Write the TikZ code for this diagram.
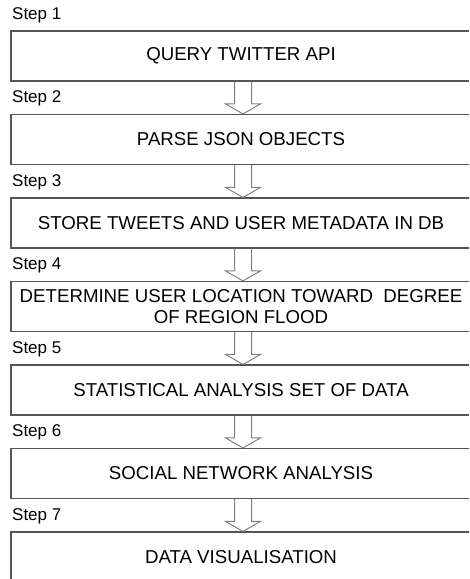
\documentclass[tikz,border=0pt]{standalone}
\usepackage{fontspec}
\setmainfont{Liberation Sans}
\usetikzlibrary{calc}
\definecolor{boxgray}{HTML}{555555}
\definecolor{arrowgray}{HTML}{808080}

\begin{document}
\begin{tikzpicture}[x=0.75pt,y=-0.75pt]
      \tikzset{stepbox/.style={draw=boxgray,
          line width=0.9pt,
          minimum width=345pt,
          minimum height=37.5pt,
          inner sep=0pt,
          align=center,
          font=\fontsize{14}{15.5}\selectfont},
        steplabel/.style={anchor=base west, inner sep=0pt,
          font=\fontsize{12.75}{14}\selectfont},
        hollow arrow/.style={draw=arrowgray, line width=0.75pt, line join=miter}
      }
      \useasboundingbox (0,0) rectangle (469,579);
      \clip (0,0) rectangle (469,579);
      \node [stepbox] (s1) at (241,56) {QUERY TWITTER API};
      \node [stepbox] (s2) at (241,139.5) {PARSE JSON OBJECTS};
      \node [stepbox] (s3) at (241,223) {STORE TWEETS AND USER METADATA IN DB};
      \node [stepbox] (s4) at (241,306.5) {DETERMINE USER LOCATION TOWARD~ DEGREE\\OF REGION FLOOD};
      \node [stepbox] (s5) at (241,390) {STATISTICAL ANALYSIS SET OF DATA};
      \node [stepbox] (s6) at (241,473.5) {SOCIAL NETWORK ANALYSIS};
      \node [stepbox] (s7) at (241,557) {DATA VISUALISATION};

      \node [steplabel] (l1) at ($(s1.north west)+(1.5,-11)$) {Step 1};
      \node [steplabel] (l2) at ($(s2.north west)+(1.5,-11)$) {Step 2};
      \node [steplabel] (l3) at ($(s3.north west)+(1.5,-11)$) {Step 3};
      \node [steplabel] (l4) at ($(s4.north west)+(1.5,-11)$) {Step 4};
      \node [steplabel] (l5) at ($(s5.north west)+(1.5,-11)$) {Step 5};
      \node [steplabel] (l6) at ($(s6.north west)+(1.5,-11)$) {Step 6};
      \node [steplabel] (l7) at ($(s7.north west)+(1.5,-11)$) {Step 7};

      \draw [hollow arrow] ($(s1.south)+(-6.5,0)$) -- ($(s2.north)+(-6.5,-10)$) -- ++(-9,0) -- ($(s2.north)+(2,0)$) -- ++(17.5,-10) -- ++(-9,0) -- ($(s1.south)+(10.5,0)$);
      \draw [hollow arrow] ($(s2.south)+(-6.5,0)$) -- ($(s3.north)+(-6.5,-10)$) -- ++(-9,0) -- ($(s3.north)+(2,0)$) -- ++(17.5,-10) -- ++(-9,0) -- ($(s2.south)+(10.5,0)$);
      \draw [hollow arrow] ($(s3.south)+(-6.5,0)$) -- ($(s4.north)+(-6.5,-10)$) -- ++(-9,0) -- ($(s4.north)+(2,0)$) -- ++(17.5,-10) -- ++(-9,0) -- ($(s3.south)+(10.5,0)$);
      \draw [hollow arrow] ($(s4.south)+(-6.5,0)$) -- ($(s5.north)+(-6.5,-10)$) -- ++(-9,0) -- ($(s5.north)+(2,0)$) -- ++(17.5,-10) -- ++(-9,0) -- ($(s4.south)+(10.5,0)$);
      \draw [hollow arrow] ($(s5.south)+(-6.5,0)$) -- ($(s6.north)+(-6.5,-10)$) -- ++(-9,0) -- ($(s6.north)+(2,0)$) -- ++(17.5,-10) -- ++(-9,0) -- ($(s5.south)+(10.5,0)$);
      \draw [hollow arrow] ($(s6.south)+(-6.5,0)$) -- ($(s7.north)+(-6.5,-10)$) -- ++(-9,0) -- ($(s7.north)+(2,0)$) -- ++(17.5,-10) -- ++(-9,0) -- ($(s6.south)+(10.5,0)$);

    \end{tikzpicture}
\end{document}
